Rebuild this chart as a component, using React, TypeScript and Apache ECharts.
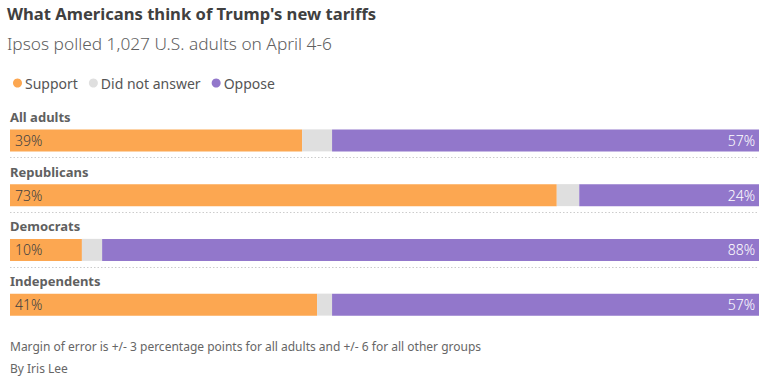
import React, { useEffect, useRef } from "react";
import * as echarts from "echarts";

const categories = ["All adults", "Republicans", "Democrats", "Independents"];
const support = [39, 73, 9.6, 41];
const noAnswer = [4, 3, 2.7, 2];
const oppose = [57, 24, 87.7, 57];
const seriesNames = ["Support", "Did not answer", "Oppose"];
const separatorRows = [0, 1, 2];

const FONT = "'Noto Sans', sans-serif";

export default function App() {
  const ref = useRef<HTMLDivElement>(null);
  useEffect(() => {
    if (!ref.current) return;
    const chart = echarts.init(ref.current, null, { renderer: "svg" });
    const barW = 22;
    const pct = (p: any) => Math.round(p.value) + "%";
    chart.setOption({
      animation: false,
      textStyle: { fontFamily: FONT },
      title: [
        {
          text: "What Americans think of Trump's new tariffs",
          left: 2,
          top: 0,
          textStyle: { fontSize: 16.6, fontWeight: "bold", color: "#404040", fontFamily: FONT },
        },
        {
          text: "Ipsos polled 1,027 U.S. adults on April 4-6",
          left: 2,
          top: 30,
          textStyle: { fontSize: 17.3, fontWeight: 300, color: "#606060", fontFamily: FONT },
        },
      ],
      legend: {
        left: 8,
        top: 71,
        icon: "circle",
        itemWidth: 9,
        itemHeight: 9,
        itemGap: 11,
        textStyle: { fontSize: 14, color: "#555555", fontFamily: FONT, padding: [0, 0, 0, -2] },
        data: seriesNames,
        selectedMode: false,
      },
      grid: { left: 10, right: 8, top: 113, bottom: 46 },
      xAxis: { type: "value", min: 0, max: 100, show: false },
      yAxis: {
        type: "category",
        data: categories,
        inverse: true,
        axisLine: { show: false },
        axisTick: { show: false },
        splitLine: { show: false },
        axisLabel: {
          inside: true,
          margin: 0,
          verticalAlign: "bottom",
          padding: [0, 0, 17, 0],
          fontSize: 13,
          fontWeight: "bold",
          color: "#606060",
          fontFamily: FONT,
        },
      },
      series: [
        {
          name: seriesNames[0],
          type: "bar",
          stack: "t",
          barWidth: barW,
          data: support,
          itemStyle: { color: "#fca751" },
          label: {
            show: true,
            position: "insideLeft",
            formatter: pct,
            color: "#404040",
            fontSize: 14,
            fontWeight: 300,
            fontFamily: FONT,
            offset: [0, 0],
          },
        },
        {
          name: seriesNames[1],
          type: "bar",
          stack: "t",
          barWidth: barW,
          data: noAnswer,
          itemStyle: { color: "#dfdfdf" },
        },
        {
          name: seriesNames[2],
          type: "bar",
          stack: "t",
          barWidth: barW,
          data: oppose,
          itemStyle: { color: "#9277cb" },
          label: {
            show: true,
            position: "insideRight",
            formatter: pct,
            color: "#ffffff",
            fontSize: 14,
            fontWeight: 300,
            fontFamily: FONT,
            offset: [1, 0],
          },
        },
        {
          type: "custom",
          silent: true,
          data: separatorRows.map((r) => [r]),
          encode: { y: 0 },
          renderItem: (params: any, api: any) => {
            const row = api.value(0);
            const p0 = api.coord([0, row]);
            const p1 = api.coord([100, row]);
            const y = Math.round(p0[1] + barW / 2 + 6) + 0.5;
            return {
              type: "line",
              shape: { x1: p0[0], y1: y, x2: p1[0], y2: y },
              style: { stroke: "#cccccc", lineWidth: 1, lineDash: [1.5, 2] },
            };
          },
        },
      ],
      graphic: [
        {
          type: "text",
          left: 10,
          top: 340,
          style: {
            text: "Margin of error is +/- 3 percentage points for all adults and +/- 6 for all other groups",
            fontSize: 12,
            fill: "#666666",
            fontFamily: FONT,
          },
        },
        {
          type: "text",
          left: 10,
          top: 362,
          style: { text: "By Iris Lee", fontSize: 12, fill: "#666666", fontFamily: FONT },
        },
      ],
    });
    return () => chart.dispose();
  }, []);
  return <div ref={ref} style={{ width: 767, height: 378, position: "absolute", left: 0, top: 0 }} />;
}
